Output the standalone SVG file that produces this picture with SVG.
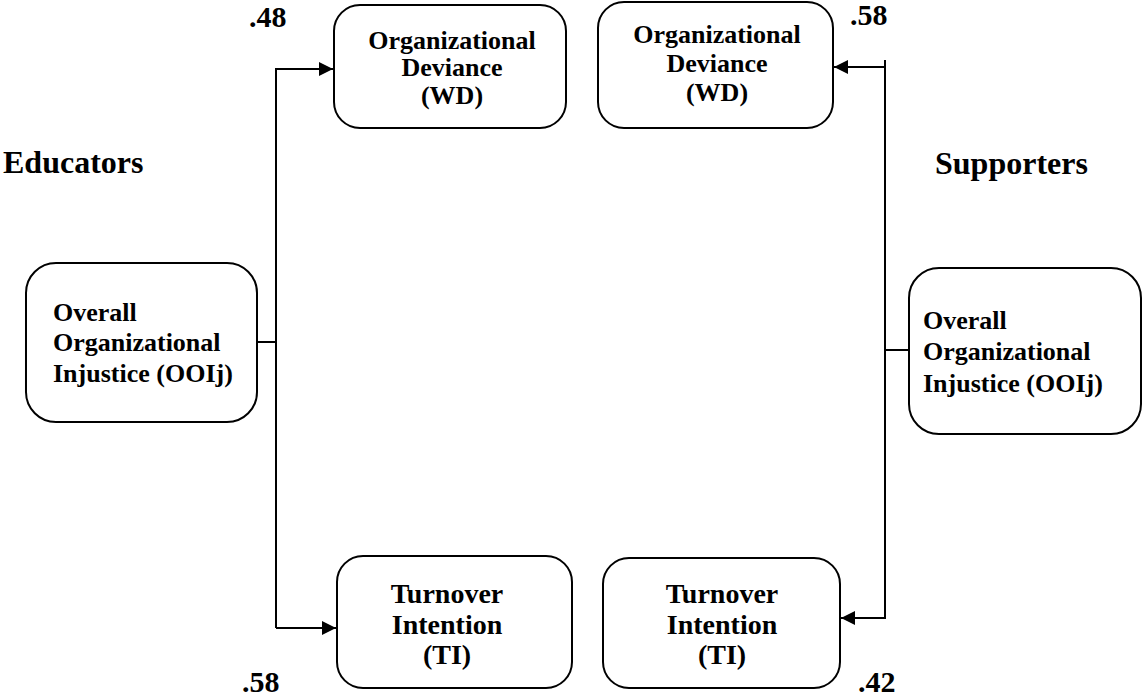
<svg xmlns="http://www.w3.org/2000/svg" width="1143" height="698" viewBox="0 0 1143 698">
<style>
.box{fill:#fff;stroke:#000;stroke-width:2}
.t{font-family:"Liberation Serif",serif;font-weight:bold;fill:#000}
.n{font-size:26px}
.m{font-size:28px}
.lbl{font-size:32px}
.num{font-size:30px}
.c{stroke:#000;stroke-width:2;fill:none}
</style>
<defs>
<marker id="ah" viewBox="0 0 10 10" refX="10" refY="5" markerWidth="16" markerHeight="14" markerUnits="userSpaceOnUse" orient="auto">
<path d="M0,0 L10,5 L0,10 Z" fill="#000"/>
</marker>
</defs>
<rect width="1143" height="698" fill="#fff"/>
<g id="connectors">
<path class="c" d="M257,342 H276"/>
<path class="c" d="M276,628 V69 H333" marker-end="url(#ah)"/>
<path class="c" d="M276,628 H336" marker-end="url(#ah)"/>
<path class="c" d="M909,350 H885"/>
<path class="c" d="M885,60 V618 H841" marker-end="url(#ah)"/>
<path class="c" d="M885,67 H834" marker-end="url(#ah)"/>
</g>
<g id="wd-educators">
<rect class="box" x="334" y="5" width="232" height="123" rx="26"/>
<text class="t n" text-anchor="middle" x="452" y="49">Organizational</text>
<text class="t n" text-anchor="middle" x="452" y="76">Deviance</text>
<text class="t n" text-anchor="middle" x="452" y="104">(WD)</text>
</g>
<g id="wd-supporters">
<rect class="box" x="598" y="2" width="235" height="126" rx="26"/>
<text class="t n" text-anchor="middle" x="717" y="43">Organizational</text>
<text class="t n" text-anchor="middle" x="717" y="72">Deviance</text>
<text class="t n" text-anchor="middle" x="717" y="101">(WD)</text>
</g>
<g id="ooij-educators">
<rect class="box" x="26" y="263" width="231" height="159" rx="30"/>
<text class="t n" x="53" y="321">Overall</text>
<text class="t n" x="53" y="351">Organizational</text>
<text class="t n" x="53" y="382">Injustice (OOIj)</text>
</g>
<g id="ooij-supporters">
<rect class="box" x="909" y="268" width="232" height="166" rx="30"/>
<text class="t n" x="923" y="329">Overall</text>
<text class="t n" x="923" y="360">Organizational</text>
<text class="t n" x="923" y="392">Injustice (OOIj)</text>
</g>
<g id="ti-educators">
<rect class="box" x="337" y="556" width="235" height="132" rx="26"/>
<text class="t m" text-anchor="middle" x="447" y="603">Turnover</text>
<text class="t m" text-anchor="middle" x="447" y="634">Intention</text>
<text class="t m" text-anchor="middle" x="447" y="664">(TI)</text>
</g>
<g id="ti-supporters">
<rect class="box" x="603" y="558" width="237" height="130" rx="26"/>
<text class="t m" text-anchor="middle" x="722" y="603">Turnover</text>
<text class="t m" text-anchor="middle" x="722" y="634">Intention</text>
<text class="t m" text-anchor="middle" x="722" y="664">(TI)</text>
</g>
<g id="labels">
<text class="t lbl" x="3" y="173">Educators</text>
<text class="t lbl" x="935" y="174">Supporters</text>
<text class="t num" x="249" y="27">.48</text>
<text class="t num" x="850" y="25">.58</text>
<text class="t num" x="242" y="692">.58</text>
<text class="t num" x="858" y="692">.42</text>
</g>
</svg>
